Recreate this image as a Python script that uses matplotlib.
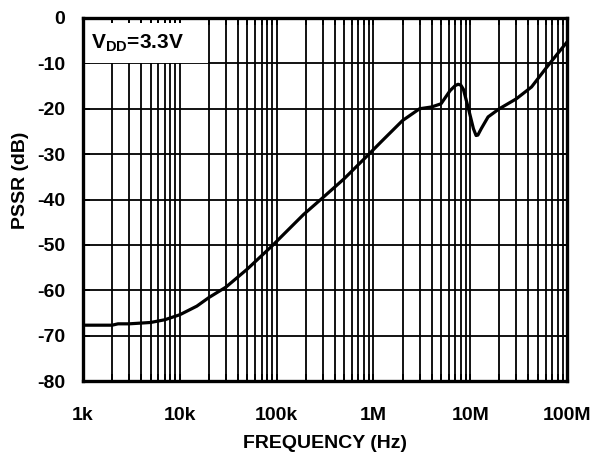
import numpy as np
import matplotlib
matplotlib.use("Agg")
import matplotlib.pyplot as plt
from matplotlib.patches import Rectangle
from matplotlib.ticker import FixedLocator, NullFormatter

plt.rcParams['font.family'] = ['Liberation Sans', 'DejaVu Sans']
plt.rcParams['font.weight'] = 'bold'
plt.rcParams['mathtext.fontset'] = 'custom'
plt.rcParams['mathtext.rm'] = 'Liberation Sans:bold'
plt.rcParams['mathtext.bf'] = 'Liberation Sans:bold'

# PSSR vs frequency, VDD = 3.3V
freq_hz = [1e3, 2e3, 2.3e3, 3e3, 5e3, 7e3, 1e4, 1.5e4, 2e4, 3e4, 5e4, 9e4,
           1.9e5, 3e5, 5e5, 9e5, 1.2e6, 2e6, 3e6, 4e6, 5e6, 6.2e6, 7e6,
           7.5e6, 8e6, 8.5e6, 9.6e6, 1.08e7, 1.15e7, 1.2e7, 1.3e7, 1.53e7,
           2e7, 3e7, 4.3e7, 6.2e7, 7.9e7, 1e8]
pssr_db = [-67.7, -67.7, -67.4, -67.4, -67.1, -66.5, -65.4, -63.5, -61.6,
           -59.3, -55.3, -50.2, -43.3, -39.6, -35.4, -30.0, -27.3, -22.6,
           -20.0, -19.6, -18.9, -16.0, -14.9, -14.6, -14.8, -15.7, -20.0,
           -24.4, -25.9, -25.8, -24.4, -21.8, -20.0, -17.8, -15.2, -10.8,
           -8.0, -5.3]

x_ticks = [1e3, 1e4, 1e5, 1e6, 1e7, 1e8]
x_labels = ['1k', '10k', '100k', '1M', '10M', '100M']
y_ticks = [0, -10, -20, -30, -40, -50, -60, -70, -80]

W, H = 595, 454
fig = plt.figure(figsize=(W / 100, H / 100), dpi=100)
ax = fig.add_axes([83 / W, 1 - 381 / H, 484 / W, 363 / H])

ax.set_xscale('log')
ax.set_xlim(1e3, 1e8)
ax.set_ylim(-80, 0)
ax.set_axisbelow(True)

minor = [m * 10 ** d for d in range(3, 8) for m in range(2, 10)]
ax.xaxis.set_major_locator(FixedLocator(x_ticks))
ax.xaxis.set_minor_locator(FixedLocator(minor))
ax.xaxis.set_minor_formatter(NullFormatter())
ax.set_xticks(x_ticks)
ax.set_xticklabels(x_labels)
ax.set_yticks(y_ticks)
ax.set_yticklabels([str(v) for v in y_ticks])

ax.grid(True, which='both', axis='x', color='black', lw=1.3)
ax.grid(True, which='major', axis='y', color='black', lw=1.3)

ax.tick_params(which='both', direction='in', top=True, right=True,
               length=5, width=1.3)
ax.tick_params(axis='x', pad=19, labelsize=14)
ax.tick_params(axis='y', pad=13, labelsize=14)
for lab in ax.get_xticklabels() + ax.get_yticklabels():
    lab.set_fontweight('bold')

for s in ax.spines.values():
    s.set_linewidth(2.4)
    s.set_zorder(5)

# white label box in the upper-left corner; it stops just under the top ticks
box = Rectangle((0.0, 0.877), 0.258, 0.108, transform=ax.transAxes,
                facecolor='white', edgecolor='none', zorder=2)
ax.add_artist(box)
ax.text(0.016, 0.93, r'V$_{\mathrm{DD}}$=3.3V', transform=ax.transAxes,
        fontsize=15, fontweight='bold', va='center', ha='left', zorder=3)

ax.plot(freq_hz, pssr_db, color='black', lw=2.3, zorder=4,
        solid_joinstyle='round', solid_capstyle='round')

fig.text(325 / W, 1 - 443 / H, 'FREQUENCY (Hz)', fontsize=14, fontweight='bold',
         ha='center', va='center')
fig.text(21 / W, 1 - 180 / H, 'PSSR (dB)', fontsize=14, fontweight='bold',
         ha='center', va='center', rotation=90)

fig.savefig('out.png', dpi=100)
